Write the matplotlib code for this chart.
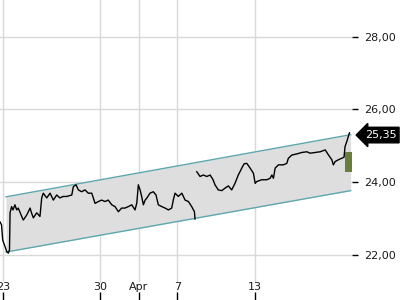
import numpy as np
import matplotlib
matplotlib.use("Agg")
import matplotlib.pyplot as plt
from matplotlib.transforms import blended_transform_factory

# trading-day position (0 = Mar 23) and price
days = [-0.14, -0.06, 0.00, 0.12, 0.21, 0.29, 0.35, 0.38, 0.46, 0.53, 0.63, 0.72, 0.80,
        0.98, 1.06, 1.24, 1.41, 1.49, 1.58, 1.75, 1.92, 2.01, 2.09, 2.27, 2.44, 2.61,
        2.78, 2.95, 3.12, 3.30, 3.56, 3.64, 3.78, 3.90, 4.07, 4.24, 4.41, 4.59, 4.76,
        4.93, 5.10, 5.27, 5.44, 5.62, 5.79, 5.96, 6.13, 6.30, 6.47, 6.65, 6.82, 6.91,
        6.99, 7.08, 7.16, 7.25, 7.34, 7.42, 7.59, 7.76, 7.90, 8.02, 8.20, 8.37, 8.54,
        8.71, 8.79, 8.88, 9.05, 9.23, 9.40, 9.57, 9.74, 9.88, 9.91, 9.95,
        10.00, 10.17, 10.34, 10.52, 10.69, 10.84, 10.94, 11.11, 11.29, 11.46, 11.63,
        11.80, 11.97, 12.14, 12.32, 12.44, 12.58, 12.75, 12.92, 13.01, 13.09, 13.35,
        13.61, 13.78, 13.87, 13.95, 14.04, 14.21, 14.46, 14.64, 14.72, 14.90, 15.15,
        15.41, 15.67, 15.84, 16.10, 16.36, 16.62, 16.79, 16.96, 17.04, 17.13, 17.30,
        17.47, 17.59, 17.64, 17.73, 17.81, 17.87]
price = [22.90, 22.82, 22.40, 22.22, 22.08, 22.04, 22.13, 23.15, 23.32, 23.23, 23.37, 23.23, 23.28,
         23.05, 22.95, 23.09, 23.28, 23.14, 23.01, 23.15, 23.05, 23.56, 23.69, 23.56, 23.69, 23.50,
         23.64, 23.56, 23.60, 23.60, 23.64, 23.87, 23.92, 23.78, 23.73, 23.78, 23.69, 23.69, 23.41,
         23.46, 23.50, 23.46, 23.50, 23.37, 23.32, 23.18, 23.28, 23.28, 23.32, 23.37, 23.23, 23.42,
         23.92, 23.78, 23.60, 23.37, 23.50, 23.55, 23.69, 23.73, 23.64, 23.37, 23.32, 23.28, 23.23,
         23.28, 23.50, 23.69, 23.60, 23.69, 23.50, 23.46, 23.32, 23.18, 22.98, np.nan,
         24.28, 24.15, 24.19, 24.15, 24.19, 24.06, 23.92, 23.78, 23.76, 23.83, 23.89,
         23.78, 23.96, 24.19, 24.38, 24.50, 24.51, 24.38, 24.24, 23.96, 24.01, 24.06,
         24.06, 24.10, 24.19, 24.10, 24.38, 24.47, 24.47, 24.51, 24.65, 24.74, 24.77,
         24.81, 24.83, 24.79, 24.81, 24.83, 24.88, 24.74, 24.61, 24.47, 24.56, 24.61,
         24.65, 24.68, 24.97, 25.11, 25.25, 25.35]

# trend channel ends
chan_x = [0.17, 17.93]
chan_upper = [23.59, 25.30]
chan_lower = [22.07, 23.76]

# last-day candle (open/close)
candle_x = 17.64
candle_w = 0.35
candle_lo = 24.28
candle_hi = 24.83

last_label = "25,35"
last_value = 25.29

xtick_pos = [0, 5, 7, 9, 13]
xtick_labels = ["23", "30", "Apr", "7", "13"]
ytick_pos = [22, 24, 26, 28]
ytick_labels = ["22,00", "24,00", "26,00", "28,00"]

fig = plt.figure(figsize=(4, 3), dpi=100)
ax = fig.add_axes([0, 0, 352 / 400, 1])
ax.set_xlim(-0.139, 18.0)
ax.set_ylim(20.75, 29.007)
for s in ax.spines.values():
    s.set_visible(False)

grid_c = "#d9d9d9"
for y in ytick_pos:
    ax.axhline(y, color=grid_c, lw=1, zorder=0)
for x in xtick_pos:
    ax.axvline(x, ymin=0.063, ymax=1, color=grid_c, lw=1, zorder=0)

ax.fill_between(chan_x, chan_lower, chan_upper, color="#dedede", lw=0, zorder=1)
ax.plot(chan_x, chan_upper, color="#5ea7ae", lw=1, zorder=2)
ax.plot(chan_x, chan_lower, color="#5ea7ae", lw=1, zorder=2)

ax.plot(days, price, color="black", lw=1, zorder=3)
ax.bar(candle_x, candle_hi - candle_lo, bottom=candle_lo, width=candle_w, align="edge",
       color="#6b7d3c", zorder=4)

ax.set_xticks(xtick_pos)
ax.set_xticklabels(xtick_labels)
ax.tick_params(axis="x", direction="in", length=6, width=1, color="black",
               pad=-13, labelsize=8, labelcolor="#1a1a1a")

ax.yaxis.tick_right()
ax.set_yticks(ytick_pos)
ax.set_yticklabels(ytick_labels)
ax.tick_params(axis="y", direction="out", length=4, width=1, color="black",
               pad=5, labelsize=8, labelcolor="#1a1a1a")

tr = blended_transform_factory(ax.transAxes, ax.transData)
ax.text(1.036, last_value, last_label, transform=tr, ha="left", va="center",
        fontsize=8, color="white", zorder=6, clip_on=False,
        bbox=dict(boxstyle="larrow,pad=0.25", fc="black", ec="black"))

fig.savefig("out.png", dpi=100)
